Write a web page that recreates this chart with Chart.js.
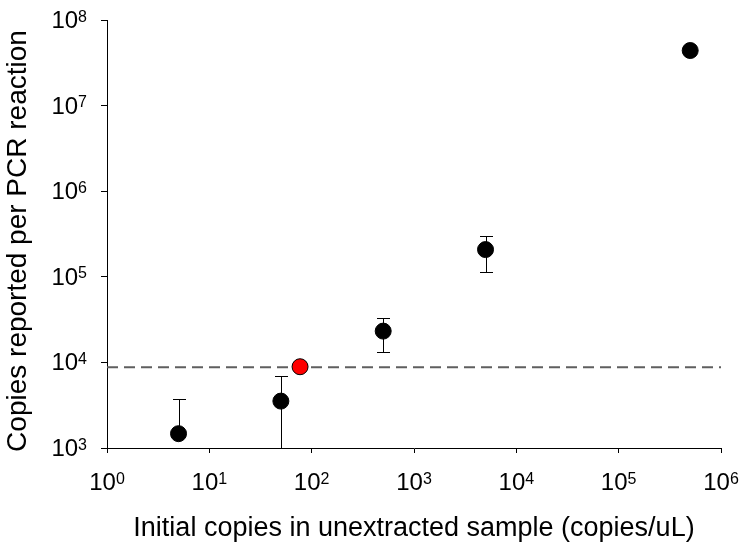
<!DOCTYPE html>
<html>
<head>
<meta charset="utf-8">
<script src="https://cdn.jsdelivr.net/npm/chart.js@4.4.1/dist/chart.umd.min.js"></script>
<style>
  html, body { margin: 0; padding: 0; background: #ffffff; }
  #wrap { width: 747px; height: 550px; }
</style>
</head>
<body>
<div id="wrap"><canvas id="c" width="747" height="550"></canvas></div>
<script>
// ---- data ----
const initialCopies = [5, 50, 500, 5000, 500000];            // x, copies/uL
const reportedCopies = [1470, 3530, 23200, 208000, 44000000]; // y, mean
const reportedSD = [2265, 3450, 9900, 94000, 0];              // symmetric error
const lodX = [77];          // red point
const lodY = [8900];
const thresholdY = 8800;    // dashed horizontal line
const thresholdX = [1, 1000000];
const xTickExponents = [0, 1, 2, 3, 4, 5, 6];
const yTickExponents = [3, 4, 5, 6, 7, 8];
const xTitle = 'Initial copies in unextracted sample (copies/uL)';
const yTitle = 'Copies reported per PCR reaction';

const FONT = '"Liberation Sans", Arial, Helvetica, sans-serif';
const BASE_SIZE = 24, SUP_SIZE = 16, XTITLE_SIZE = 27, YTITLE_SIZE = 28;

const mainPoints = initialCopies.map((x, i) => ({ x: x, y: reportedCopies[i] }));
const lodPoints = lodX.map((x, i) => ({ x: x, y: lodY[i] }));
const linePoints = thresholdX.map(x => ({ x: x, y: thresholdY }));

const errorBarPlugin = {
  id: 'errorBars',
  beforeDatasetsDraw(chart) {
    const { ctx, chartArea, scales: { x, y } } = chart;
    ctx.save();
    ctx.beginPath();
    ctx.rect(chartArea.left, chartArea.top, chartArea.right - chartArea.left, chartArea.bottom - chartArea.top);
    ctx.clip();
    ctx.strokeStyle = '#000';
    ctx.lineWidth = 1;
    const half = 6.5;
    initialCopies.forEach((xv, i) => {
      const sd = reportedSD[i];
      if (!sd) return;
      const px = Math.round(x.getPixelForValue(xv)) + 0.5;
      const pm = y.getPixelForValue(reportedCopies[i]);
      const up = reportedCopies[i] + sd;
      const lo = reportedCopies[i] - sd;
      const pu = Math.round(y.getPixelForValue(up)) + 0.5;
      ctx.beginPath();
      ctx.moveTo(px, pm); ctx.lineTo(px, pu);
      ctx.moveTo(px - half, pu); ctx.lineTo(px + half, pu);
      ctx.stroke();
      if (lo > 0) {
        const pl = Math.round(y.getPixelForValue(lo)) + 0.5;
        ctx.beginPath();
        ctx.moveTo(px, pm); ctx.lineTo(px, pl);
        ctx.moveTo(px - half, pl); ctx.lineTo(px + half, pl);
        ctx.stroke();
      }
    });
    ctx.restore();
  }
};

function drawPow(ctx, exp, cx, baseline, align) {
  ctx.font = BASE_SIZE + 'px ' + FONT;
  const w1 = ctx.measureText('10').width;
  ctx.font = SUP_SIZE + 'px ' + FONT;
  const w2 = ctx.measureText(String(exp)).width;
  const total = w1 + w2;
  let start = align === 'right' ? cx - total : cx - total / 2;
  ctx.textAlign = 'left';
  ctx.textBaseline = 'alphabetic';
  ctx.font = BASE_SIZE + 'px ' + FONT;
  ctx.fillText('10', start, baseline);
  ctx.font = SUP_SIZE + 'px ' + FONT;
  ctx.fillText(String(exp), start + w1, baseline - 6.5);
}

const labelPlugin = {
  id: 'powLabels',
  afterDraw(chart) {
    const { ctx, chartArea, scales: { x, y } } = chart;
    ctx.save();
    ctx.fillStyle = '#000';
    xTickExponents.forEach(e => {
      const px = x.getPixelForValue(Math.pow(10, e));
      drawPow(ctx, e, px, chartArea.bottom + 42, 'center');
    });
    yTickExponents.forEach(e => {
      const py = y.getPixelForValue(Math.pow(10, e));
      drawPow(ctx, e, chartArea.left - 20, py + 8, 'right');
    });
    // axis titles
    ctx.textAlign = 'center';
    ctx.textBaseline = 'alphabetic';
    ctx.font = XTITLE_SIZE + 'px ' + FONT;
    ctx.fillText(xTitle, (chartArea.left + chartArea.right) / 2, 536);
    ctx.font = YTITLE_SIZE + 'px ' + FONT;
    ctx.translate(26, 241);
    ctx.rotate(-Math.PI / 2);
    ctx.fillText(yTitle, 0, 0);
    ctx.restore();
  }
};

function decadeTicks(min, max) {
  const t = [];
  for (let e = min; e <= max; e++) t.push({ value: Math.pow(10, e) });
  return t;
}

new Chart(document.getElementById('c'), {
  type: 'scatter',
  data: {
    datasets: [
      {
        label: 'LOD',
        data: lodPoints,
        order: 0,
        backgroundColor: '#ff0000',
        borderColor: '#000000',
        borderWidth: 1,
        pointRadius: 8,
        pointHoverRadius: 8
      },
      {
        label: 'Samples',
        data: mainPoints,
        order: 1,
        backgroundColor: '#000000',
        borderColor: '#000000',
        borderWidth: 1,
        pointRadius: 8,
        pointHoverRadius: 8
      },
      {
        type: 'line',
        label: 'Threshold',
        data: linePoints,
        order: 2,
        borderColor: '#5f5f5f',
        borderWidth: 2,
        borderDash: [11, 6],
        pointRadius: 0,
        fill: false,
        showLine: true
      }
    ]
  },
  options: {
    responsive: false,
    animation: false,
    devicePixelRatio: 1,
    layout: { padding: { top: 20, right: 26, left: 0, bottom: 0 } },
    plugins: { legend: { display: false }, tooltip: { enabled: false } },
    scales: {
      x: {
        type: 'logarithmic',
        min: 1,
        max: 1000000,
        afterBuildTicks(scale) { scale.ticks = decadeTicks(xTickExponents[0], xTickExponents[xTickExponents.length - 1]); },
        afterFit(scale) { scale.height = 102; },
        ticks: { display: false },
        grid: { display: true, drawOnChartArea: false, drawTicks: true, tickLength: 5, color: '#000', lineWidth: 1 },
        border: { display: true, color: '#000', width: 1 }
      },
      y: {
        type: 'logarithmic',
        min: 1000,
        max: 100000000,
        afterBuildTicks(scale) { scale.ticks = decadeTicks(yTickExponents[0], yTickExponents[yTickExponents.length - 1]); },
        afterFit(scale) { scale.width = 107; },
        ticks: { display: false },
        grid: { display: true, drawOnChartArea: false, drawTicks: true, tickLength: 6, color: '#000', lineWidth: 1 },
        border: { display: true, color: '#000', width: 1 }
      }
    }
  },
  plugins: [errorBarPlugin, labelPlugin]
});
</script>
</body>
</html>
